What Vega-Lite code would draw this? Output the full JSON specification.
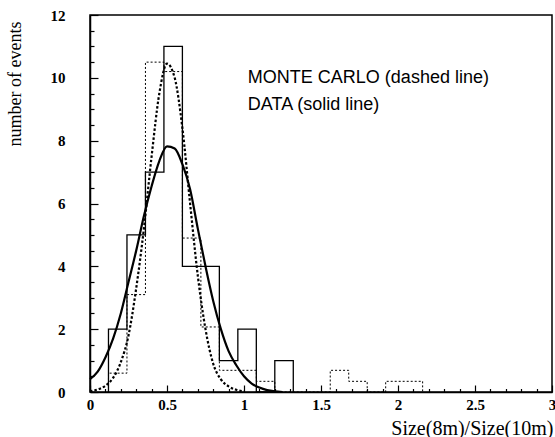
{
  "$schema": "https://vega.github.io/schema/vega-lite/v6.json",
  "width": 462,
  "height": 377,
  "autosize": {"type": "none"},
  "padding": {"left": 90, "top": 15, "right": 3, "bottom": 45},
  "background": "white",
  "config": {
    "view": {"stroke": "black", "strokeWidth": 1.5},
    "axis": {"grid": false, "ticks": true}
  },
  "datasets": {
    "hist_data": [
      {"edge": 0.12, "count": 0},
      {"edge": 0.12, "count": 2},
      {"edge": 0.24, "count": 5},
      {"edge": 0.36, "count": 7},
      {"edge": 0.48, "count": 11},
      {"edge": 0.60, "count": 4},
      {"edge": 0.72, "count": 4},
      {"edge": 0.84, "count": 1},
      {"edge": 0.96, "count": 2},
      {"edge": 1.08, "count": 0},
      {"edge": 1.20, "count": 1},
      {"edge": 1.32, "count": 0}
    ],
    "hist_mc": [
      {"edge": 0.12, "count": 0},
      {"edge": 0.12, "count": 0.6},
      {"edge": 0.24, "count": 3.1},
      {"edge": 0.36, "count": 10.5},
      {"edge": 0.48, "count": 10.2},
      {"edge": 0.60, "count": 4.9},
      {"edge": 0.72, "count": 2.07},
      {"edge": 0.84, "count": 0.69},
      {"edge": 0.96, "count": 0.69},
      {"edge": 1.08, "count": 0.34},
      {"edge": 1.20, "count": 0},
      {"edge": 1.32, "count": 0},
      {"edge": 1.44, "count": 0},
      {"edge": 1.56, "count": 0.69},
      {"edge": 1.68, "count": 0.34},
      {"edge": 1.80, "count": 0},
      {"edge": 1.92, "count": 0.34},
      {"edge": 2.04, "count": 0.34},
      {"edge": 2.16, "count": 0}
    ],
    "fit_data": [
      {"x": 0.00, "y": 0.41},
      {"x": 0.05, "y": 0.65},
      {"x": 0.10, "y": 1.1},
      {"x": 0.15, "y": 1.7},
      {"x": 0.20, "y": 2.5},
      {"x": 0.25, "y": 3.5},
      {"x": 0.30, "y": 4.5},
      {"x": 0.35, "y": 5.6},
      {"x": 0.40, "y": 6.55},
      {"x": 0.45, "y": 7.35},
      {"x": 0.50, "y": 7.82},
      {"x": 0.55, "y": 7.75},
      {"x": 0.60, "y": 7.25},
      {"x": 0.65, "y": 6.45},
      {"x": 0.70, "y": 5.2},
      {"x": 0.75, "y": 4.0},
      {"x": 0.80, "y": 2.9},
      {"x": 0.85, "y": 2.0},
      {"x": 0.90, "y": 1.3},
      {"x": 0.95, "y": 0.85},
      {"x": 1.00, "y": 0.5},
      {"x": 1.05, "y": 0.27},
      {"x": 1.10, "y": 0.14},
      {"x": 1.15, "y": 0.06},
      {"x": 1.20, "y": 0.02},
      {"x": 1.25, "y": 0.0}
    ],
    "fit_mc": [
      {"x": 0.00, "y": 0.02},
      {"x": 0.05, "y": 0.08},
      {"x": 0.10, "y": 0.2},
      {"x": 0.15, "y": 0.45},
      {"x": 0.20, "y": 0.95},
      {"x": 0.25, "y": 1.8},
      {"x": 0.30, "y": 3.3},
      {"x": 0.35, "y": 5.2},
      {"x": 0.40, "y": 7.5},
      {"x": 0.45, "y": 9.5},
      {"x": 0.50, "y": 10.45},
      {"x": 0.55, "y": 10.0},
      {"x": 0.60, "y": 8.4},
      {"x": 0.65, "y": 6.0},
      {"x": 0.70, "y": 3.7},
      {"x": 0.75, "y": 2.0},
      {"x": 0.80, "y": 0.9},
      {"x": 0.85, "y": 0.4},
      {"x": 0.90, "y": 0.18},
      {"x": 0.95, "y": 0.07},
      {"x": 1.00, "y": 0.02}
    ],
    "notes": [
      {"x": 1.025, "y": 10.0, "label": "MONTE CARLO (dashed line)"},
      {"x": 1.025, "y": 9.13, "label": "DATA (solid line)"}
    ]
  },
  "resolve": {"axis": {"x": "independent", "y": "independent"}},
  "layer": [
    {
      "data": {"name": "hist_data"},
      "mark": {"type": "line", "interpolate": "step-after", "color": "black", "strokeWidth": 1.3},
      "encoding": {
        "x": {
          "field": "edge",
          "type": "quantitative",
          "scale": {"domain": [0, 3], "nice": false, "zero": false},
          "axis": {
            "orient": "bottom",
            "title": "Size(8m)/Size(10m)",
            "values": [0, 0.5, 1, 1.5, 2, 2.5, 3],
            "format": "~g",
            "tickSize": -7,
            "tickColor": "black",
            "tickWidth": 1.2,
            "domainColor": "black",
            "domainWidth": 1.5,
            "labelFont": "Liberation Serif",
            "labelFontSize": 15,
            "labelFontWeight": "bold",
            "labelColor": "black",
            "labelPadding": 12,
            "labelFlush": false,
            "labelOverlap": false,
            "titleFont": "Liberation Serif",
            "titleFontSize": 20,
            "titleFontWeight": "normal",
            "titleColor": "black",
            "titleAlign": "right",
            "titleAnchor": "end",
            "titleBaseline": "alphabetic",
            "titleX": 463,
            "titleY": 42
          }
        },
        "y": {
          "field": "count",
          "type": "quantitative",
          "scale": {"domain": [0, 12], "nice": false},
          "axis": {
            "orient": "left",
            "title": "number of events",
            "values": [0, 2, 4, 6, 8, 10, 12],
            "tickSize": -8,
            "tickColor": "black",
            "tickWidth": 1.2,
            "domainColor": "black",
            "domainWidth": 1.5,
            "labelFont": "Liberation Serif",
            "labelFontSize": 15,
            "labelFontWeight": "bold",
            "labelColor": "black",
            "labelPadding": 33,
            "labelFlush": false,
            "labelOverlap": false,
            "titleFont": "Liberation Serif",
            "titleFontSize": 18,
            "titleFontWeight": "normal",
            "titleColor": "black",
            "titleAlign": "right",
            "titleBaseline": "middle",
            "titleAngle": -90,
            "titleX": -75,
            "titleY": 6
          }
        }
      }
    },
    {
      "data": {"name": "hist_mc"},
      "mark": {"type": "line", "interpolate": "step-after", "color": "black", "strokeWidth": 1, "strokeDash": [2, 2]},
      "encoding": {
        "x": {
          "field": "edge",
          "type": "quantitative",
          "axis": {
            "orient": "bottom",
            "title": null,
            "values": [0,0.1,0.2,0.3,0.4,0.6,0.7,0.8,0.9,1.1,1.2,1.3,1.4,1.6,1.7,1.8,1.9,2.1,2.2,2.3,2.4,2.6,2.7,2.8,2.9],
            "labels": false,
            "domain": false,
            "tickSize": -3.5,
            "tickColor": "black",
            "tickWidth": 1.2
          }
        },
        "y": {
          "field": "count",
          "type": "quantitative",
          "axis": {
            "orient": "left",
            "title": null,
            "values": [0.5,1,1.5,2.5,3,3.5,4.5,5,5.5,6.5,7,7.5,8.5,9,9.5,10.5,11,11.5],
            "labels": false,
            "domain": false,
            "tickSize": -4,
            "tickColor": "black",
            "tickWidth": 1.2
          }
        }
      }
    },
    {
      "data": {"name": "fit_data"},
      "mark": {"type": "line", "interpolate": "monotone", "color": "black", "strokeWidth": 2.2},
      "encoding": {
        "x": {"field": "x", "type": "quantitative", "axis": null},
        "y": {"field": "y", "type": "quantitative", "axis": null}
      }
    },
    {
      "data": {"name": "fit_mc"},
      "mark": {"type": "line", "interpolate": "monotone", "color": "black", "strokeWidth": 2.2, "strokeDash": [2.5, 2]},
      "encoding": {
        "x": {"field": "x", "type": "quantitative", "axis": null},
        "y": {"field": "y", "type": "quantitative", "axis": null}
      }
    },
    {
      "data": {"name": "notes"},
      "mark": {"type": "text", "align": "left", "baseline": "middle", "font": "Liberation Sans", "fontSize": 18, "color": "black"},
      "encoding": {
        "x": {"field": "x", "type": "quantitative", "axis": null},
        "y": {"field": "y", "type": "quantitative", "axis": null},
        "text": {"field": "label"}
      }
    }
  ]
}
